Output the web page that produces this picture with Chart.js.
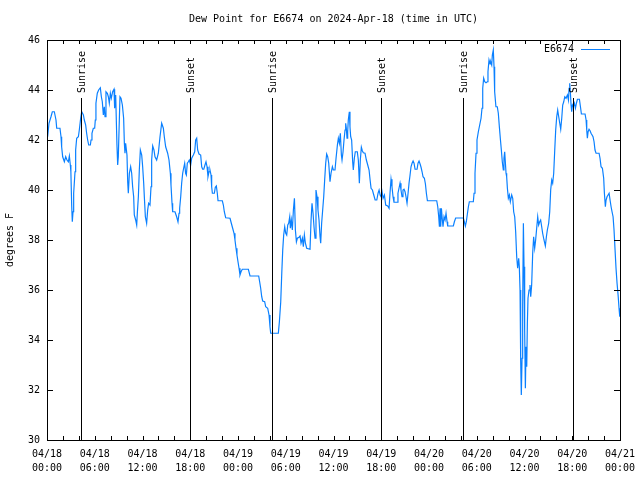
<!DOCTYPE html>
<html>
<head>
<meta charset="utf-8">
<script src="https://cdn.jsdelivr.net/npm/chart.js@4.4.1/dist/chart.umd.min.js"></script>
<style>
  html, body { margin: 0; padding: 0; background: #fff; }
  #wrap { width: 640px; height: 480px; }
</style>
</head>
<body>
<div id="wrap"><canvas id="chart1"></canvas></div>
<script>
const FONT = "'DejaVu Sans Mono', monospace";
const LINE = '#0a80ff';

// hours since 04/18 00:00 UTC
const hours = [
  0.08, 0.25, 0.5, 0.67, 0.92, 1.13, 1.22, 1.63, 1.76, 1.84, 1.97, 2.18, 2.35, 2.51, 2.68, 2.81, 2.93, 3.0, 3.1, 3.18,
  3.27, 3.35, 3.52, 3.6, 3.73, 3.94, 4.06, 4.23, 4.36, 4.57, 4.69, 4.86, 4.98, 5.11, 5.24, 5.45, 5.53, 5.65, 5.82, 5.99,
  6.07, 6.15, 6.32, 6.49, 6.7, 6.83, 6.95, 7.08, 7.2, 7.29, 7.41, 7.58, 7.71, 7.83, 7.96, 8.08, 8.25, 8.42, 8.5, 8.63,
  8.79, 8.88, 8.96, 9.17, 9.3, 9.47, 9.63, 9.72, 9.8, 9.88, 10.05, 10.14, 10.22, 10.35, 10.51, 10.64, 10.76, 10.89, 10.97, 11.14,
  11.27, 11.35, 11.48, 11.6, 11.73, 11.9, 12.02, 12.15, 12.23, 12.36, 12.52, 12.65, 12.77, 12.94, 13.07, 13.15, 13.28, 13.44, 13.57, 13.78,
  13.99, 14.2, 14.41, 14.62, 14.74, 14.91, 15.16, 15.33, 15.5, 15.58, 15.71, 15.79, 16.08, 16.29, 16.46, 16.59, 16.67, 16.8, 16.92, 17.05,
  17.17, 17.3, 17.42, 17.51, 17.63, 17.76, 17.88, 18.05, 18.18, 18.39, 18.56, 18.68, 18.81, 18.93, 19.1, 19.31, 19.44, 19.56, 19.7, 19.85,
  19.98, 20.11, 20.23, 20.36, 20.48, 20.61, 20.69, 20.78, 21.03, 21.15, 21.28, 21.4, 21.49, 22.03, 22.16, 22.28, 22.45, 23.0, 23.16, 23.33,
  23.5, 23.62, 23.75, 23.87, 24.0, 24.13, 24.25, 24.38, 24.54, 25.3, 25.51, 26.6, 26.72, 26.85, 26.98, 27.1, 27.35, 27.48, 27.73, 27.9,
  28.02, 28.11, 29.07, 29.2, 29.37, 29.5, 29.62, 29.74, 29.87, 30.0, 30.12, 30.25, 30.37, 30.5, 30.58, 30.7, 30.83, 30.96, 31.09, 31.21,
  31.34, 31.46, 31.67, 31.8, 31.92, 32.09, 32.21, 32.34, 32.47, 32.63, 33.05, 33.18, 33.3, 33.43, 33.55, 33.68, 33.8, 33.93, 34.05, 34.18,
  34.31, 34.39, 34.51, 34.64, 34.77, 34.89, 35.02, 35.14, 35.27, 35.4, 35.56, 35.69, 35.86, 35.98, 36.19, 36.32, 36.49, 36.61, 36.74, 36.86,
  36.99, 37.07, 37.2, 37.32, 37.45, 37.53, 37.61, 37.7, 37.78, 37.86, 37.99, 38.07, 38.16, 38.28, 38.41, 38.49, 38.62, 38.74, 38.99, 39.12,
  39.25, 39.37, 39.5, 39.62, 39.75, 39.96, 40.13, 40.3, 40.47, 40.6, 40.72, 40.89, 41.06, 41.23, 41.44, 41.6, 41.73, 41.86, 41.98, 42.1,
  42.23, 42.4, 42.56, 42.81, 42.98, 43.1, 43.23, 43.35, 43.48, 43.6, 43.98, 44.1, 44.23, 44.36, 44.48, 44.61, 44.73, 44.86, 44.99, 45.11,
  45.24, 45.37, 45.49, 45.62, 45.74, 45.87, 46.0, 46.12, 46.25, 46.5, 46.62, 46.75, 46.88, 47.0, 47.13, 47.25, 47.42, 47.55, 47.67, 47.8,
  48.97, 49.1, 49.22, 49.31, 49.39, 49.47, 49.56, 49.64, 49.76, 49.89, 50.02, 50.14, 50.27, 50.35, 51.06, 51.19, 51.35, 52.32, 52.44, 52.57,
  52.69, 52.82, 52.95, 53.07, 53.57, 53.66, 53.78, 53.91, 54.03, 54.2, 54.37, 54.54, 54.66, 54.75, 54.87, 55.0, 55.16, 55.33, 55.41, 55.54,
  55.67, 55.75, 55.88, 55.96, 56.08, 56.17, 56.25, 56.41, 56.58, 56.71, 56.84, 56.96, 57.09, 57.21, 57.34, 57.42, 57.51, 57.59, 57.68, 57.76,
  57.85, 57.97, 58.1, 58.22, 58.39, 58.52, 58.64, 58.77, 58.89, 59.02, 59.14, 59.27, 59.35, 59.44, 59.52, 59.6, 59.69, 59.77, 59.86, 59.94,
  60.02, 60.11, 60.19, 60.28, 60.36, 60.44, 60.57, 60.69, 60.78, 60.9, 61.03, 61.15, 61.28, 61.4, 61.53, 61.66, 61.78, 61.91, 62.03, 62.16,
  62.28, 62.45, 62.62, 62.75, 62.87, 63.04, 63.17, 63.29, 63.42, 63.54, 63.67, 63.8, 63.92, 64.05, 64.17, 64.3, 64.43, 64.55, 64.68, 64.8,
  64.93, 65.06, 65.22, 65.39, 65.52, 65.6, 65.68, 65.77, 65.85, 65.93, 66.02, 66.14, 66.27, 66.4, 66.52, 66.65, 66.9, 67.03, 67.15, 67.61,
  67.74, 67.82, 67.9, 67.99, 68.11, 68.24, 68.36, 68.49, 68.61, 68.74, 68.86, 68.99, 69.37, 69.49, 69.62, 69.79, 69.95, 70.04, 70.16, 70.25,
  70.37, 70.5, 70.63, 70.75, 70.88, 71.0, 71.13, 71.25, 71.38, 71.5, 71.63, 71.76, 71.88, 71.97
];

// dew point, degrees F
const dewPoint = [
  42.13, 42.67, 42.93, 43.13, 43.13, 42.8, 42.47, 42.47, 42.13, 41.73, 41.33, 41.13, 41.33, 41.2, 41.13, 41.36, 41.0, 40.73, 39.4, 38.73,
  39.13, 39.87, 40.73, 41.6, 42.07, 42.13, 42.4, 42.87, 43.13, 43.0, 42.8, 42.6, 42.27, 42.0, 41.8, 41.8, 42.0, 42.27, 42.47, 42.47,
  42.8, 43.47, 43.87, 44.0, 44.09, 43.73, 43.53, 43.0, 43.33, 42.93, 43.93, 43.87, 43.73, 43.47, 43.87, 43.67, 43.93, 44.03, 43.27, 43.8,
  41.8, 41.0, 41.33, 43.73, 43.67, 43.4, 42.87, 41.87, 41.47, 41.87, 41.4, 40.33, 39.87, 40.67, 40.93, 40.67, 40.13, 39.73, 39.0, 38.8,
  38.6, 39.07, 39.73, 40.8, 41.6, 41.4, 40.93, 40.27, 39.73, 38.93, 38.67, 39.2, 39.47, 39.4, 40.13, 41.2, 41.76, 41.6, 41.33, 41.2,
  41.47, 42.13, 42.67, 42.47, 42.13, 41.73, 41.47, 41.2, 40.67, 40.2, 39.47, 39.13, 39.13, 38.93, 38.73, 39.07, 39.27, 39.73, 40.27, 40.67,
  40.87, 41.07, 40.67, 40.6, 41.07, 41.13, 41.2, 41.0, 41.27, 41.4, 41.53, 42.0, 42.07, 41.6, 41.44, 41.4, 40.93, 40.83, 40.83, 41.0,
  41.13, 40.93, 40.53, 40.73, 40.8, 40.6, 40.13, 39.87, 39.87, 40.11, 40.16, 39.87, 39.57, 39.57, 39.4, 39.13, 38.89, 38.87, 38.67, 38.47,
  38.27, 38.0, 37.67, 37.4, 37.13, 36.87, 36.6, 36.73, 36.83, 36.83, 36.56, 36.56, 36.33, 36.07, 35.73, 35.56, 35.53, 35.33, 35.27, 35.0,
  34.53, 34.27, 34.27, 34.73, 35.53, 36.67, 37.6, 38.2, 38.53, 38.27, 38.2, 38.6, 38.67, 38.93, 38.47, 38.8, 38.4, 39.2, 39.67, 38.4,
  37.93, 38.07, 38.11, 38.16, 37.87, 38.07, 37.73, 38.2, 37.87, 37.67, 37.63, 38.8, 39.47, 39.07, 38.53, 38.07, 40.0, 39.73, 39.2, 38.8,
  38.13, 37.87, 38.67, 39.2, 39.73, 40.4, 41.07, 41.44, 41.33, 41.07, 40.33, 40.67, 40.93, 40.8, 40.8, 41.27, 41.8, 42.07, 41.87, 42.27,
  41.4, 41.2, 41.53, 42.0, 42.4, 42.67, 42.47, 42.07, 42.33, 42.8, 43.13, 42.53, 42.13, 42.0, 41.13, 40.8, 41.27, 41.53, 41.53, 41.2,
  40.27, 41.2, 41.71, 41.57, 41.49, 41.47, 41.2, 41.0, 40.8, 40.4, 40.07, 40.0, 39.8, 39.6, 39.6, 39.87, 40.0, 39.8, 39.73, 39.93,
  39.67, 39.8, 39.4, 39.36, 39.27, 39.87, 40.43, 40.13, 39.73, 39.51, 39.51, 39.87, 40.07, 40.27, 40.0, 39.73, 40.0, 40.03, 39.93, 39.73,
  39.47, 39.87, 40.27, 40.6, 40.93, 41.07, 41.16, 41.07, 40.83, 40.83, 41.07, 41.16, 41.04, 40.91, 40.73, 40.53, 40.47, 40.24, 39.87, 39.57,
  39.57, 39.33, 38.93, 38.53, 39.27, 38.53, 39.27, 38.93, 38.53, 38.93, 38.8, 39.07, 38.73, 38.56, 38.56, 38.73, 38.88, 38.88, 38.73, 38.56,
  38.73, 39.04, 39.33, 39.53, 39.53, 39.87, 40.67, 41.47, 42.0, 42.33, 42.6, 42.87, 43.27, 44.07, 44.47, 44.33, 44.29, 44.33, 44.73, 45.2,
  45.04, 45.13, 45.0, 45.4, 45.6, 44.93, 43.93, 43.33, 43.33, 43.07, 42.53, 42.07, 41.6, 41.13, 40.8, 41.27, 41.53, 41.13, 40.67, 40.53,
  40.07, 39.67, 39.8, 39.53, 39.8, 39.67, 39.13, 38.93, 38.33, 37.33, 36.87, 37.27, 36.93, 36.0, 33.2, 31.8, 33.27, 35.33, 38.67, 36.93,
  34.4, 32.07, 33.73, 32.93, 34.67, 35.67, 36.0, 36.2, 35.73, 36.2, 37.47, 38.13, 37.67, 38.0, 38.47, 38.93, 38.6, 38.73, 38.8, 38.53,
  38.27, 38.0, 37.76, 38.13, 38.4, 38.67, 39.13, 40.0, 40.4, 40.27, 40.67, 41.6, 42.4, 42.93, 43.2, 42.93, 42.67, 42.43, 42.87, 43.4,
  43.53, 43.73, 43.67, 43.8, 43.6, 44.07, 44.27, 43.87, 43.4, 43.13, 43.4, 43.33, 43.47, 43.27, 43.47, 43.63, 43.63, 43.33, 43.04, 43.04,
  42.8, 42.4, 42.07, 42.33, 42.43, 42.37, 42.27, 42.2, 42.13, 41.93, 41.6, 41.47, 41.47, 41.27, 40.93, 40.87, 40.47, 39.87, 39.33, 39.6,
  39.73, 39.8, 39.87, 39.6, 39.33, 39.13, 38.93, 38.4, 37.6, 36.87, 36.27, 35.8, 35.27, 34.93
];

const tickDates = ['04/18', '04/18', '04/18', '04/18', '04/19', '04/19', '04/19', '04/19', '04/20', '04/20', '04/20', '04/20', '04/21'];
const tickTimes = ['00:00', '06:00', '12:00', '18:00', '00:00', '06:00', '12:00', '18:00', '00:00', '06:00', '12:00', '18:00', '00:00'];
const sunrise = [4.28, 28.3, 52.32];
const sunset = [17.95, 41.97, 66.1];

const points = hours.map((h, i) => ({ x: h, y: dewPoint[i] }));

const decor = {
  id: 'decor',
  afterDraw(chart) {
    const { ctx, chartArea: a, scales: { x, y } } = chart;
    ctx.save();
    ctx.strokeStyle = '#000';
    ctx.fillStyle = '#000';
    ctx.lineWidth = 1;
    ctx.font = '10px ' + FONT;

    // frame
    ctx.strokeRect(Math.round(a.left) + 0.5, Math.round(a.top) + 0.5,
      Math.round(a.right - a.left), Math.round(a.bottom - a.top));

    // inward ticks
    ctx.beginPath();
    for (let h = 0; h <= 72; h += 2) {
      const px = Math.round(x.getPixelForValue(h)) + 0.5;
      ctx.moveTo(px, a.bottom); ctx.lineTo(px, a.bottom - 4);
      ctx.moveTo(px, a.top); ctx.lineTo(px, a.top + 4);
    }
    for (let v = 30; v <= 46; v += 2) {
      const py = Math.round(y.getPixelForValue(v)) + 0.5;
      ctx.moveTo(a.left, py); ctx.lineTo(a.left + 6, py);
      ctx.moveTo(a.right, py); ctx.lineTo(a.right - 6, py);
    }
    ctx.stroke();

    // sunrise / sunset markers
    const marks = sunrise.map(h => [h, 'Sunrise']).concat(sunset.map(h => [h, 'Sunset']));
    marks.forEach(([h, label]) => {
      const px = Math.round(x.getPixelForValue(h)) + 0.5;
      ctx.beginPath();
      ctx.moveTo(px, a.top + 58);
      ctx.lineTo(px, a.bottom);
      ctx.stroke();
      ctx.save();
      ctx.translate(px + 1, a.top + 53);
      ctx.rotate(-Math.PI / 2);
      ctx.textAlign = 'left';
      ctx.textBaseline = 'middle';
      ctx.fillText(label, 0, 0);
      ctx.restore();
    });

    // key
    ctx.textAlign = 'right';
    ctx.textBaseline = 'middle';
    ctx.fillText('E6674', a.right - 46, a.top + 9);
    ctx.strokeStyle = LINE;
    ctx.beginPath();
    ctx.moveTo(a.right - 39, a.top + 9.5);
    ctx.lineTo(a.right - 10, a.top + 9.5);
    ctx.stroke();

    // title
    ctx.textAlign = 'center';
    ctx.fillText('Dew Point for E6674 on 2024-Apr-18 (time in UTC)', (a.left + a.right) / 2, 19);
    ctx.restore();
  }
};

new Chart(document.getElementById('chart1'), {
  type: 'line',
  data: {
    datasets: [{
      label: 'E6674',
      data: points,
      borderColor: LINE,
      borderWidth: 1.2,
      pointRadius: 0,
      tension: 0,
      fill: false,
    }]
  },
  options: {
    responsive: true,
    maintainAspectRatio: false,
    animation: false,
    events: [],
    layout: { padding: { top: 40, right: 20, left: 0, bottom: 0 } },
    plugins: {
      legend: { display: false },
      tooltip: { enabled: false },
    },
    scales: {
      x: {
        type: 'linear',
        min: 0,
        max: 72,
        afterFit(s) { s.height = 40; s.paddingLeft = 0; s.paddingRight = 0; },
        afterBuildTicks(s) { s.ticks = tickTimes.map((t, i) => ({ value: i * 6 })); },
        grid: { display: false, drawTicks: false },
        border: { display: false },
        ticks: {
          color: '#000',
          font: { family: FONT, size: 10, lineHeight: '14px' },
          padding: 7,
          maxRotation: 0,
          autoSkip: false,
          callback: (v) => [tickDates[v / 6], tickTimes[v / 6]],
        }
      },
      y: {
        min: 30,
        max: 46,
        afterFit(s) { s.width = 47; },
        grid: { display: false, drawTicks: false },
        border: { display: false },
        ticks: {
          stepSize: 2,
          color: '#000',
          font: { family: FONT, size: 10 },
          padding: 7,
        },
        title: {
          display: true,
          text: 'degrees F',
          color: '#000',
          font: { family: FONT, size: 10 },
          padding: { top: 4, bottom: 0 },
        }
      }
    }
  },
  plugins: [decor]
});
</script>
</body>
</html>
